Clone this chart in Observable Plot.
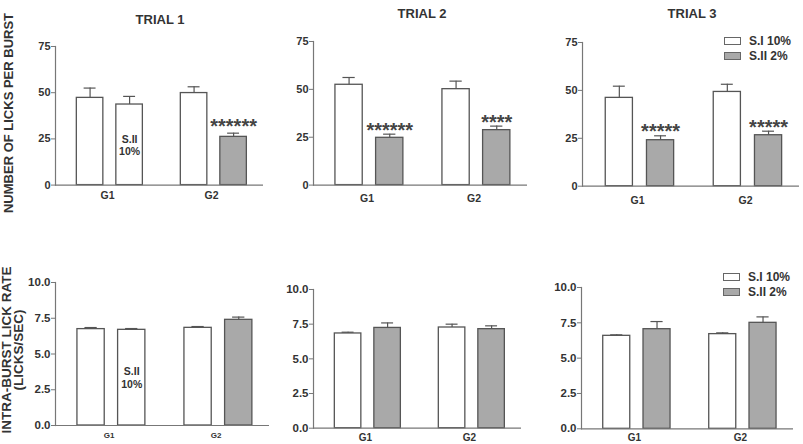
<!DOCTYPE html>
<html><head><meta charset="utf-8">
<script src="https://cdn.jsdelivr.net/npm/d3@7"></script>
<script src="https://cdn.jsdelivr.net/npm/@observablehq/plot@0.6"></script>
<style>
body{margin:0;background:#fff;}
#chart{position:relative;width:803px;height:444px;overflow:hidden;font-family:"Liberation Sans",Arial,sans-serif;font-weight:bold;color:#333;}
.panel{position:absolute;}
.title{position:absolute;font-size:13px;transform:translate(-50%,-50%);white-space:nowrap;}
.ylab{position:absolute;white-space:nowrap;transform:translate(-50%,-50%) rotate(-90deg);text-align:center;}
.lrow{position:absolute;display:flex;align-items:center;white-space:nowrap;font-size:12px;transform:translateY(-50%);}
.sw{display:inline-block;width:15px;height:6px;border:1px solid #666;margin-right:8px;}
</style></head>
<body><div id="chart"></div>
<script>
const groups = ["G1", "G2"];
const series = ["S.I", "S.II"];
const trials = ["TRIAL 1", "TRIAL 2", "TRIAL 3"];
// order within each trial: G1 S.I, G1 S.II, G2 S.I, G2 S.II
const concentration = [["10%","10%","10%","2%"],["10%","2%","10%","2%"],["10%","2%","10%","2%"]];
const licksMean = [[47.2,43.6,49.8,26.1],[52.4,24.7,50.1,28.7],[46.1,24.0,49.2,26.6]];
const licksSem  = [[5.3,4.4,3.4,2.0],[3.8,1.9,4.2,2.1],[6.1,2.3,4.0,2.1]];
const licksStars = [["","","","******"],["","******","","****"],["","*****","","*****"]];
const rateMean = [[6.74,6.69,6.83,7.39],[6.83,7.23,7.26,7.14],[6.58,7.05,6.70,7.50]];
const rateSem  = [[0.11,0.09,0.09,0.19],[0.09,0.36,0.24,0.24],[0.07,0.54,0.09,0.42]];
const licksTicks = [0, 25, 50, 75];
const rateTicks = [0, 2.5, 5, 7.5, 10];
const legendLabels = ["S.I 10%", "S.II 2%"];
const yTitleTop = "NUMBER OF LICKS PER BURST";
const yTitleBottom = ["INTRA-BURST LICK RATE", "(LICKS/SEC)"];

function rowsFor(t, means, sems, stars) {
  const out = [];
  groups.forEach((g, gi) => series.forEach((s, si) => {
    const k = gi * 2 + si;
    out.push({group: g, series: s, conc: concentration[t][k], mean: means[t][k], sem: sems[t][k], stars: stars ? stars[t][k] : ""});
  }));
  return out;
}

const chart = document.getElementById("chart");
const FONT = "Liberation Sans, Arial, sans-serif";
const EDGE = "#555", AXIS = "#777", GRAY = "#a9a9a9";

function panel(rows, L) {
  const ML = 40, MR = 4, MT = 12, MB = 20;
  const B = (L.ex - L.ax) / 2;
  const a = 0.205 * B, w = 0.255 * B, g = 0.125 * B, cap = 0.45 * w;
  const marks = [];
  series.forEach((s, k) => {
    const data = rows.filter(d => d.series === s);
    const left = k === 0 ? a : a + w + g;
    const c = left + w / 2;
    marks.push(Plot.barY(data, {x: "group", y: "mean", fill: d => d.conc === "2%" ? GRAY : "#fff",
      stroke: EDGE, strokeWidth: 1.3, insetLeft: left, insetRight: B - left - w}));
    marks.push(Plot.ruleX(data, {x: "group", y1: "mean", y2: d => d.mean + d.sem, dx: c - B / 2, stroke: EDGE, strokeWidth: 1.2}));
    marks.push(Plot.tickY(data, {x: "group", y: d => d.mean + d.sem, insetLeft: c - cap / 2, insetRight: B - c - cap / 2, stroke: EDGE, strokeWidth: 1.2}));
    marks.push(Plot.text(data.filter(d => d.stars), {x: "group", y: d => d.mean + d.sem, text: "stars", dx: c - B / 2, dy: L.starDy,
      fontSize: 20, fontWeight: "bold", fill: "#444", lineAnchor: "middle"}));
    marks.push(Plot.text(data.filter(d => d.series === "S.II" && d.conc === "10%"), {x: "group", y: d => d.mean / 2,
      text: d => `${d.series}\n${d.conc}`, dx: c - B / 2, fontSize: 10.5, lineHeight: 1.15, fontWeight: "bold", fill: "#333", lineAnchor: "middle"}));
  });
  marks.push(Plot.ruleY([0], {stroke: AXIS, strokeWidth: 1.2}));
  marks.push(Plot.frame({anchor: "left", stroke: AXIS, strokeWidth: 1.2}));
  marks.push(Plot.axisY({ticks: L.ticks, tickFormat: L.fmt, tickSize: 4, tickPadding: 1, fontSize: L.yFont, stroke: AXIS, fill: "#333", label: null}));
  marks.push(Plot.axisX({tickSize: 0, tickPadding: L.pad, fontSize: L.xFont, fill: "#333", label: null}));
  const svg = Plot.plot({
    width: ML + (L.ex - L.ax) + MR,
    height: MT + (L.yb - L.yt) + MB,
    marginLeft: ML, marginRight: MR, marginTop: MT, marginBottom: MB,
    x: {domain: groups, padding: 0},
    y: {domain: [0, L.ticks[L.ticks.length - 1]]},
    style: {fontFamily: FONT, fontWeight: "bold", color: "#333", background: "transparent", overflow: "visible"},
    marks
  });
  const div = document.createElement("div");
  div.className = "panel";
  div.style.left = (L.ax - ML) + "px";
  div.style.top = (L.yt - MT) + "px";
  div.appendChild(svg);
  chart.appendChild(div);
}

const topLayout = [
  {ax: 55, ex: 263, yt: 45.7, yb: 184.3, pad: 6, xFont: 10.5, starDy: -7},
  {ax: 313, ex: 527, yt: 40.7, yb: 184.3, pad: 9, xFont: 10.5, starDy: -4},
  {ax: 582, ex: 799, yt: 42.3, yb: 186, pad: 10, xFont: 10.5, starDy: -4}
];
const botLayout = [
  {ax: 55, ex: 269, yt: 281.7, yb: 424.7, pad: 6.5, xFont: 8},
  {ax: 313, ex: 521, yt: 289.3, yb: 428, pad: 5.5, xFont: 10},
  {ax: 581, ex: 793, yt: 286.7, yb: 428, pad: 5.5, xFont: 10}
];
trials.forEach((t, i) => {
  panel(rowsFor(i, licksMean, licksSem, licksStars), {...topLayout[i], ticks: licksTicks, fmt: d3.format("d"), yFont: 11});
  panel(rowsFor(i, rateMean, rateSem, null), {...botLayout[i], ticks: rateTicks, fmt: d3.format(".1f"), yFont: 11.5, starDy: -4});
});

function addDiv(cls, text, x, y, extra) {
  const d = document.createElement("div");
  d.className = cls;
  d.textContent = text;
  d.style.left = x + "px";
  d.style.top = y + "px";
  if (extra) Object.assign(d.style, extra);
  chart.appendChild(d);
  return d;
}
// panel titles
[[160, 18.5], [422, 12.7], [692, 12.8]].forEach(([x, y], i) => addDiv("title", trials[i], x, y));
// y axis titles
addDiv("ylab", yTitleTop, 8, 113, {fontSize: "13px"});
const yl = addDiv("ylab", "", 13, 350, {fontSize: "13.5px", lineHeight: "12px"});
yl.innerHTML = yTitleBottom.join("<br>");
// legends
function legend(x, ys) {
  legendLabels.forEach((lab, i) => {
    const r = document.createElement("div");
    r.className = "lrow";
    r.style.left = x + "px";
    r.style.top = ys[i] + "px";
    const sw = document.createElement("span");
    sw.className = "sw";
    sw.style.background = i === 0 ? "#fff" : GRAY;
    r.appendChild(sw);
    r.appendChild(document.createTextNode(lab));
    chart.appendChild(r);
  });
}
legend(724, [40.5, 55.5]);
legend(723, [276.5, 292]);
</script>
</body></html>
